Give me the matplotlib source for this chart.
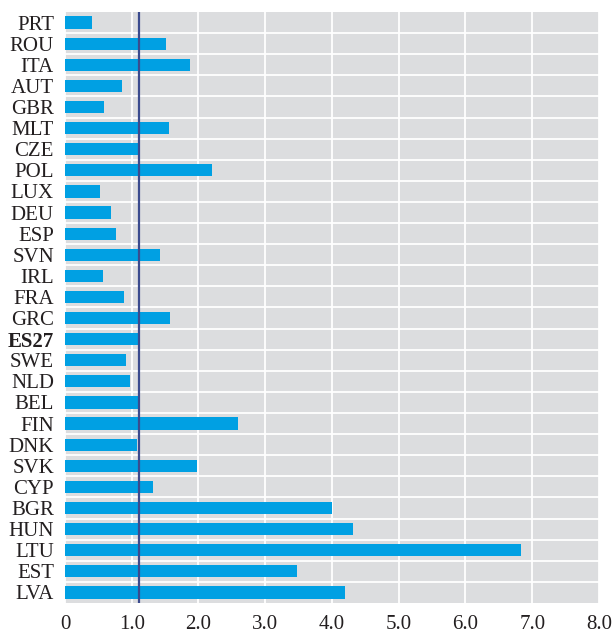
import matplotlib
matplotlib.use("Agg")
import matplotlib.pyplot as plt
import numpy as np

countries = ['PRT', 'ROU', 'ITA', 'AUT', 'GBR', 'MLT', 'CZE', 'POL', 'LUX', 'DEU',
             'ESP', 'SVN', 'IRL', 'FRA', 'GRC', 'ES27', 'SWE', 'NLD', 'BEL', 'FIN',
             'DNK', 'SVK', 'CYP', 'BGR', 'HUN', 'LTU', 'EST', 'LVA']
values = [0.40, 1.52, 1.88, 0.85, 0.585, 1.56, 1.11, 2.20, 0.525, 0.685,
          0.76, 1.42, 0.565, 0.88, 1.57, 1.11, 0.915, 0.97, 1.09, 2.59,
          1.075, 1.975, 1.315, 4.00, 4.31, 6.83, 3.47, 4.19]
ref_value = 1.11
xticks = [0, 1, 2, 3, 4, 5, 6, 7, 8]
xtick_labels = ['0', '1.0', '2.0', '3.0', '4.0', '5.0', '6.0', '7.0', '8.0']

plt.rcParams['font.family'] = ['Liberation Serif', 'DejaVu Serif']

fig = plt.figure(figsize=(6.16, 6.34), dpi=100)
ax = fig.add_axes([0.1055, 0.049, 0.8669, 0.932])
ax.set_facecolor('#dcdddf')

n = len(countries)
ypos = np.arange(n)[::-1]
ax.barh(ypos, values, height=0.58, color='#00a0e3', zorder=3)
ax.axvline(ref_value, color='#3b4b8e', linewidth=1.6, zorder=4)

ax.set_xlim(0, 8)
ax.set_ylim(-0.5, n - 0.5)
ax.set_xticks(xticks)
ax.set_xticklabels(xtick_labels)
ax.set_yticks(ypos)
ax.set_yticklabels(countries)
ax.set_yticks(np.arange(n - 1) + 0.5, minor=True)

for lbl in ax.get_yticklabels():
    if lbl.get_text() == 'ES27':
        lbl.set_fontweight('bold')

ax.grid(axis='x', which='major', color='white', linewidth=1.3, zorder=1)
ax.grid(axis='y', which='minor', color='white', linewidth=1.3, zorder=1)
ax.set_axisbelow(True)

ax.tick_params(axis='both', which='both', length=0, labelsize=15, colors='#231f20')
ax.tick_params(axis='y', pad=8)
ax.tick_params(axis='x', pad=9)
for s in ax.spines.values():
    s.set_visible(False)

fig.savefig('out.png', dpi=100)
